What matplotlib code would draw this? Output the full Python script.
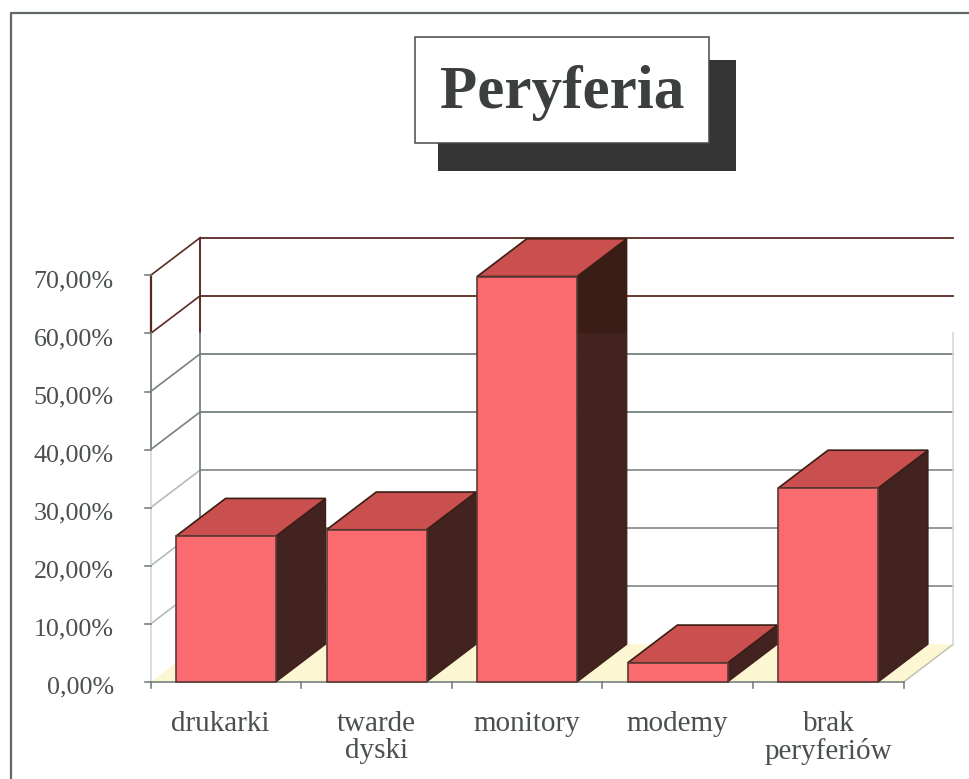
import matplotlib
matplotlib.use('Agg')
import matplotlib.pyplot as plt
from matplotlib.patches import Polygon, Rectangle

# data
categories = ['drukarki', 'twarde\ndyski', 'monitory', 'modemy', 'brak\nperyferiów']
values = [25.1, 26.2, 69.8, 3.3, 33.4]
y_ticks = [0, 10, 20, 30, 40, 50, 60, 70]
y_labels = ['0,00%', '10,00%', '20,00%', '30,00%', '40,00%', '50,00%', '60,00%', '70,00%']

W, H = 969, 779
bar_w = 0.664      # category units
dx = 0.33          # depth to the right
dy = 6.5           # depth upwards, in percent

RED = '#fb6a6e'
TOP = '#c9504f'
SIDE = '#43231f'
SIDE_DARK = '#3a1d14'
WINE = '#5a2a22'
GREY = '#76817f'
TEXT = '#4a504c'

plt.rcParams['font.family'] = ['Liberation Serif', 'DejaVu Serif']

fig = plt.figure(figsize=(W / 100, H / 100), dpi=100)
ax = fig.add_axes([0, 0, 1, 1])
ax.set_xlim(-1.5, 4.934)
ax.set_ylim(-16.7, 117.4)
ax.axis('off')

left = -0.5
right = 4.5
n = len(categories)


def line_color(v):
    return WINE if v >= 60 else GREY


# floor
ax.add_patch(Polygon([(left, 0), (right, 0), (right + dx, dy), (left + dx, dy)],
                     fc='#fdf6d2', ec='none', zorder=1))
ax.plot([right, right + dx], [0, dy], color='#b9bdb0', lw=1, zorder=1.5)

# walls and gridlines
for v in y_ticks[1:]:
    c = line_color(v)
    if v <= 30:
        c = '#b4bbb9'
    ax.plot([left, left + dx], [v, v + dy], color=c, lw=1.2, zorder=2)
    c2 = line_color(v) if v > 30 else '#8a918f'
    ax.plot([left + dx, right + dx], [v + dy, v + dy], color=c2, lw=1.3, zorder=2)
ax.plot([left, left], [60, 70], color=WINE, lw=1.6, zorder=2)
ax.plot([left, left], [40, 60], color=GREY, lw=1.3, zorder=2)
ax.plot([left, left], [0, 40], color='#d5d9d8', lw=1.3, zorder=2)
ax.plot([left + dx, left + dx], [60, 70 + dy], color=WINE, lw=1.4, zorder=2)
ax.plot([left + dx, left + dx], [dy, 60], color=GREY, lw=1.3, zorder=2)
ax.plot([right + dx, right + dx], [dy, 60], color='#d5d9d8', lw=1.2, zorder=2)

# axis ticks
for v, lab in zip(y_ticks, y_labels):
    ax.plot([left - 0.04, left], [v, v], color=GREY, lw=1.2, zorder=2)
    ax.text(left - 0.245, v - 1.0, lab, ha='right', va='center', fontsize=18.7, color=TEXT)
ax.plot([left, right], [0, 0], color=GREY, lw=1.2, zorder=2)
for i in range(n + 1):
    ax.plot([left + i, left + i], [0, -1], color=GREY, lw=1.2, zorder=2)

# bars, drawn left to right so each one sits over the previous side face
for i, v in enumerate(values):
    x0 = i - bar_w / 2
    x1 = i + bar_w / 2
    z = 3 + i
    ax.add_patch(Polygon([(x1, 0), (x1 + dx, dy), (x1 + dx, v + dy), (x1, v)],
                         fc=SIDE, ec=SIDE_DARK, lw=0.8, zorder=z))
    if v + dy > 60:
        ax.add_patch(Polygon([(x1, 60), (x1 + dx, 60), (x1 + dx, v + dy), (x1, v)],
                             fc=SIDE_DARK, ec='none', zorder=z))
    ax.add_patch(Polygon([(x0, v), (x1, v), (x1 + dx, v + dy), (x0 + dx, v + dy)],
                         fc=TOP, ec=SIDE_DARK, lw=1.2, zorder=z))
    ax.add_patch(Rectangle((x0, 0), bar_w, v, fc=RED, ec='#5a3a36', lw=1.2, zorder=z + 0.5))

# category labels
for i, lab in enumerate(categories):
    ax.text(i - 0.04 if i == 0 else i, -5.0, lab, ha='center', va='top', fontsize=21,
            color=TEXT, linespacing=1.05)

# outer frame
tr = ax.transAxes
ax.plot([11 / W, 11 / W, 1], [0, 1 - 13 / H, 1 - 13 / H], transform=tr,
        color='#5f6a66', lw=1.6, zorder=20)

# title box with shadow
ax.add_patch(Rectangle((438 / W, 1 - 171 / H), 298 / W, 111 / H, transform=tr,
                       fc='#333433', ec='none', zorder=21))
ax.add_patch(Rectangle((415 / W, 1 - 143 / H), 294 / W, 106 / H, transform=tr,
                       fc='white', ec='#444a48', lw=1.1, zorder=22))
ax.text(562 / W, 1 - 93 / H, 'Peryferia', transform=tr, ha='center', va='center',
        fontsize=44, fontweight='bold', color='#3c403d', zorder=23)

fig.savefig('out.png', dpi=100, facecolor='white')
